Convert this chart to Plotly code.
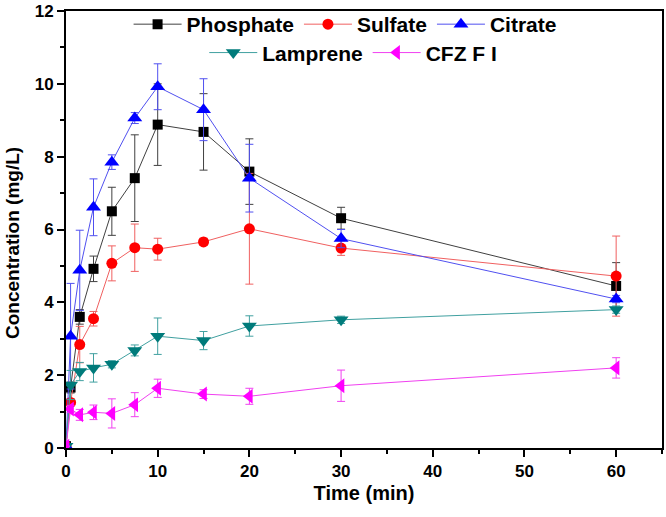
import plotly.graph_objects as go

time = [0, 0.5, 1.5, 3, 5, 7.5, 10, 15, 20, 30, 60]

phosphate = [0.05, 1.66, 3.6, 4.92, 6.5, 7.41, 8.88, 8.68, 7.59, 6.31, 4.45]
phosphate_err = [0, 0.15, 0.2, 0.35, 0.66, 1.19, 1.12, 1.05, 0.9, 0.3, 0.64]
sulfate = [0.05, 1.25, 2.84, 3.55, 5.07, 5.5, 5.46, 5.66, 6.02, 5.49, 4.72]
sulfate_err = [0, 0.1, 0.5, 0.2, 0.48, 0.65, 0.3, 0.1, 1.52, 0.2, 1.1]
citrate = [0.05, 3.07, 4.88, 6.61, 7.85, 9.06, 9.92, 9.29, 7.41, 5.75, 4.09]
citrate_err = [0, 1.45, 1.1, 0.78, 0.2, 0.15, 0.63, 0.85, 0.93, 0.25, 0.1]
lamprene = [0.05, 1.73, 2.1, 2.2, 2.3, 2.68, 3.07, 2.95, 3.35, 3.52, 3.8]
lamprene_err = [0, 0.4, 0.25, 0.39, 0.1, 0.15, 0.5, 0.25, 0.28, 0.1, 0.1]
cfz = [0.05, 1.07, 0.91, 0.98, 0.95, 1.19, 1.64, 1.48, 1.42, 1.71, 2.2]
cfz_err = [0, 0.1, 0.15, 0.2, 0.4, 0.33, 0.25, 0.12, 0.22, 0.43, 0.28]

font = "Liberation Sans, Arial, sans-serif"

# name, values, errors, marker colour, line colour, symbol, size, legend
series = [
    ("Phosphate", phosphate, phosphate_err, "#000000", "#404040", "square", 10, "legend"),
    ("Sulfate", sulfate, sulfate_err, "#ff0000", "#f06060", "circle", 11, "legend"),
    ("Citrate", citrate, citrate_err, "#0000ff", "#5050f0", "triangle-up", 13, "legend"),
    ("Lamprene", lamprene, lamprene_err, "#007b7b", "#40a0a0", "triangle-down", 13, "legend2"),
    ("CFZ F I", cfz, cfz_err, "#ff00ff", "#f040f0", "triangle-left", 13, "legend2"),
]

fig = go.Figure()
for name, vals, errs, mcol, lcol, sym, size, leg in series:
    fig.add_trace(go.Scatter(
        x=time, y=vals, name=name, mode="lines+markers",
        line=dict(color=lcol, width=1),
        marker=dict(symbol=sym, size=size, color=mcol),
        error_y=dict(type="data", array=errs, color=lcol, thickness=1, width=4),
        legend=leg,
    ))

axis_common = dict(
    showline=True, linecolor="black", linewidth=2, mirror=True,
    ticks="outside", ticklen=7, tickwidth=2, tickcolor="black",
    showgrid=False, zeroline=False, ticklabeloverflow="allow",
    tickfont=dict(family=font, size=17, color="black", weight="bold"),
)

fig.update_xaxes(
    range=[0, 65], tickvals=[0, 10, 20, 30, 40, 50, 60],
    minor=dict(tickvals=[5, 15, 25, 35, 45, 55, 65], ticklen=4, tickwidth=2, tickcolor="black", ticks="outside"),
    title=dict(text="Time (min)", font=dict(family=font, size=20, color="black", weight="bold"), standoff=6),
    **axis_common,
)
fig.update_yaxes(
    range=[0, 12], dtick=2,
    minor=dict(dtick=1, ticklen=4, tickwidth=2, tickcolor="black", ticks="outside"),
    **axis_common,
)

# y title as an annotation so it can sit right against the page edge
fig.add_annotation(
    text="Concentration (mg/L)", textangle=-90,
    xref="paper", yref="paper", x=-0.09, y=0.47, xanchor="center", yanchor="middle",
    showarrow=False, font=dict(family=font, size=19, color="black", weight="bold"),
)

legend_font = dict(family=font, size=21, color="black", weight="bold")
fig.update_layout(
    width=666, height=517,
    margin=dict(l=66, r=2, t=7, b=69),
    plot_bgcolor="white", paper_bgcolor="white",
    legend=dict(orientation="h", x=0.105, y=1.016, xanchor="left", yanchor="top",
                font=legend_font, bgcolor="rgba(0,0,0,0)", itemwidth=48),
    legend2=dict(orientation="h", x=0.232, y=0.951, xanchor="left", yanchor="top",
                 font=legend_font, bgcolor="rgba(0,0,0,0)", itemwidth=48),
)

# page body has a default 8px margin; drop it so the figure sits at the corner
fig.write_html("out.html", config={"displayModeBar": False},
               post_script="document.body.style.margin='0';")
